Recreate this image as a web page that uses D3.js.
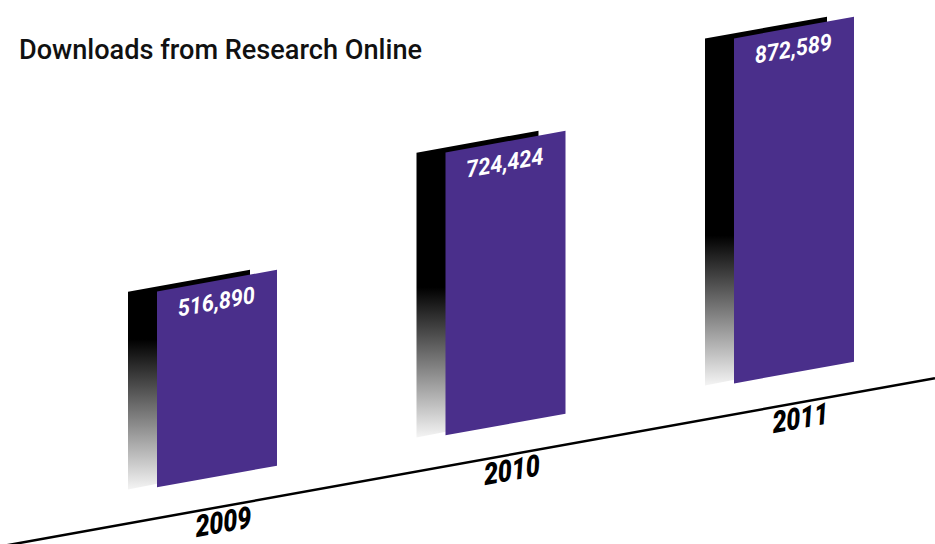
<!DOCTYPE html>
<html>
<head>
<meta charset="utf-8">
<script src="https://cdn.jsdelivr.net/npm/d3@7/dist/d3.min.js"></script>
<style>
  html, body { margin: 0; padding: 0; background: #ffffff; }
  svg { display: block; }
</style>
</head>
<body>
<script>
// ---- data ----
const years = ["2009", "2010", "2011"];
const downloads = [516890, 724424, 872589];
const valueLabels = ["516,890", "724,424", "872,589"];
const title = "Downloads from Research Online";

// ---- layout ----
const W = 935, H = 544;
const slope = 0.18;            // rise per px of the tilted baseline
const angle = -Math.atan(slope) * 180 / Math.PI;
const baseAt = x => 546.5 - slope * x;   // tilted axis line
const barW = 120, gap = 31, fadeLen = 150;
const purple = "#4a2f8b";

const svg = d3.select("body").append("svg")
  .attr("width", W).attr("height", H);

const x = d3.scalePoint().domain(years).range([157, 734]);
const h = d3.scaleLinear().domain([50000, d3.max(downloads)]).range([0, 345]);

const data = years.map((y, i) => ({ year: y, value: downloads[i], label: valueLabels[i] }));

// title
svg.append("text")
  .attr("x", 19).attr("y", 59)
  .attr("font-family", "Roboto, 'Noto Sans', sans-serif")
  .attr("font-weight", 500)
  .attr("font-size", 27)
  .attr("fill", "#111")
  .attr("textLength", 403)
  .attr("lengthAdjust", "spacingAndGlyphs")
  .text(title);

const defs = svg.append("defs");

// axis line
svg.append("line")
  .attr("x1", 0).attr("y1", baseAt(0))
  .attr("x2", W).attr("y2", baseAt(W))
  .attr("stroke", "#000").attr("stroke-width", 2.5);

const g = svg.append("g");

data.forEach((d, i) => {
  const x0 = x(d.year);
  const b0 = baseAt(x0) - gap;      // bottom-left of front bar
  const hh = h(d.value);
  const rise = slope * barW;

  // gradient for shadow
  const gid = "fade" + i;
  const top = b0 - hh, bot = b0 + 2;
  const grad = defs.append("linearGradient")
    .attr("id", gid)
    .attr("gradientUnits", "userSpaceOnUse")
    .attr("x1", 0).attr("y1", top).attr("x2", 0).attr("y2", bot);
  grad.append("stop").attr("offset", Math.max(0, (bot - top - fadeLen) / (bot - top))).attr("stop-color", "#000");
  grad.append("stop").attr("offset", 1).attr("stop-color", "#f4f4f4");

  // shadow (back) panel
  const sx = x0 - 29, sdy = -5, sw = 122;
  const sb = b0 + sdy + slope * 29;
  const shadowPts = [
    [sx, sb - hh],
    [sx + sw, sb - hh - slope * sw],
    [sx + sw, sb - slope * sw],
    [sx, sb + 2]
  ];
  g.append("polygon")
    .attr("points", shadowPts.map(p => p.join(",")).join(" "))
    .attr("fill", `url(#${gid})`);

  // front purple panel
  const pts = [
    [x0, b0 - hh],
    [x0 + barW, b0 - hh - rise],
    [x0 + barW, b0 - rise],
    [x0, b0]
  ];
  g.append("polygon")
    .attr("points", pts.map(p => p.join(",")).join(" "))
    .attr("fill", purple);

  // value label
  const cx = x0 + barW / 2;
  const ty = b0 - hh - rise / 2 + 29;
  g.append("text")
    .attr("transform", `translate(${cx},${ty}) rotate(${angle}) skewX(-5) scale(0.95,1)`)
    .attr("text-anchor", "middle")
    .attr("font-family", "Roboto, 'Noto Sans', sans-serif")
    .attr("font-weight", 700)
    .attr("font-style", "italic")
    .attr("font-size", 23)
    .attr("fill", "#fff")
    .text(d.label);

  // year label
  const yx = cx + 7;
  const yy = baseAt(yx) + 26;
  g.append("text")
    .attr("transform", `translate(${yx},${yy}) rotate(${angle}) skewX(-6) scale(0.84,1)`)
    .attr("text-anchor", "middle")
    .attr("font-family", "Roboto, 'Noto Sans', sans-serif")
    .attr("font-weight", 900)
    .attr("font-style", "italic")
    .attr("font-size", 30)
    .attr("fill", "#000")
    .text(d.year);
});
</script>
</body>
</html>
